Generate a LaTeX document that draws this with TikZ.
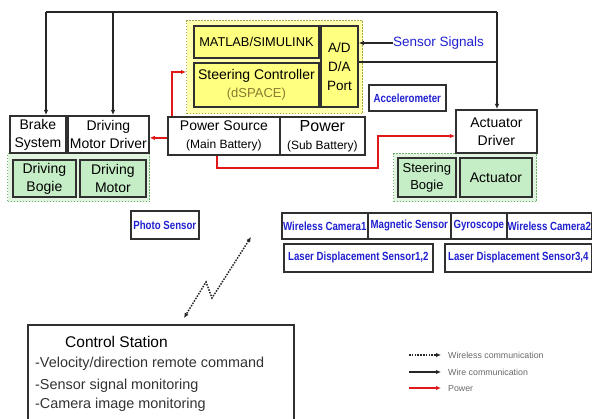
\documentclass[tikz,border=0pt]{standalone}
\usepackage{fontspec}
\setmainfont{Liberation Sans}
\newfontfamily\sensorfont[FakeStretch=0.82]{Liberation Sans Bold}
\usetikzlibrary{arrows.meta}
\definecolor{sigblue}{HTML}{2020D0}
\definecolor{ylight}{HTML}{FFFFAE}
\definecolor{ydark}{HTML}{FFFF80}
\definecolor{yborder}{HTML}{A8A848}
\definecolor{glight}{HTML}{E0F4E0}
\definecolor{gdark}{HTML}{C6EEC6}
\definecolor{gborder}{HTML}{70B070}
\definecolor{dspace}{HTML}{8C7A30}
\definecolor{pwrred}{HTML}{E01818}
\definecolor{leggray}{HTML}{6A6A6A}
\definecolor{bxline}{HTML}{303030}
\newcommand\myfs[1]{\fontsize{#1}{#1}\selectfont}
\begin{document}
\begin{tikzpicture}[x=1pt,y=-1pt,
  bx/.style={draw=bxline, line width=1.8pt, anchor=north west, inner sep=0pt, align=center, font=\fontsize{14}{18}\selectfont},
  ybx/.style={bx, fill=ydark},
  gbx/.style={bx, fill=gdark},
  sbx/.style={bx, line width=1.6pt, text=sigblue, font=\sensorfont\fontsize{11.8}{13}\selectfont},
  ycont/.style={draw=yborder, fill=ylight, line width=1.2pt, dash pattern=on 1.5pt off 1.5pt, anchor=north west, inner sep=0pt},
  gcont/.style={draw=gborder, fill=glight, line width=1.2pt, dash pattern=on 1.5pt off 1.5pt, anchor=north west, inner sep=0pt},
  tip/.style={-{Latex[length=5pt,width=4.5pt]}},
  wire/.style={draw=black!85, line width=1.8pt},
  pwr/.style={draw=pwrred, line width=1.8pt},
  wless/.style={draw=black!85, line width=1.5pt, dash pattern=on 1.5pt off 1.3pt},
  lgtxt/.style={anchor=west, text=leggray, inner sep=0pt, font=\fontsize{8.8}{10}\selectfont}
]
\clip (0,0) rectangle (592,419);
\fill[white] (0,0) rectangle (592,419);

% containers
\node[ycont, minimum width=176, minimum height=93] (ybox) at (186,20) {};
\node[gcont, minimum width=142, minimum height=48] (gbox1) at (7,153) {};
\node[gcont, minimum width=143, minimum height=48] (gbox2) at (393,153) {};

% yellow boxes
\node[ybx, minimum width=125, minimum height=32, font=\fontsize{12.8}{15}\selectfont] (matlab) at (193,25) {MATLAB/SIMULINK};
\node[ybx, minimum width=125, minimum height=44] (steer) at (193,62) {Steering Controller\\{\color{dspace}\myfs{13}(dSPACE)}};
\node[ybx, minimum width=37, minimum height=81, font=\fontsize{13.5}{19}\selectfont] (port) at (320,25) {A/D\\D/A\\Port};

% left boxes
\node[bx, minimum width=56, minimum height=37] (brake) at (9,115) {Brake\\System};
\node[bx, minimum width=81, minimum height=37] (dmd) at (67,115) {Driving\\Motor Driver};
\node[gbx, minimum width=63, minimum height=37] (dbogie) at (12,159) {Driving\\Bogie};
\node[gbx, minimum width=66, minimum height=37] (dmotor) at (79,159) {Driving\\Motor};

% power
\node[bx, minimum width=112, minimum height=38] (ps) at (167,116) {Power Source\\{\myfs{12}(Main Battery)}};
\node[bx, minimum width=85, minimum height=38] (pw) at (279,116) {{\myfs{16}Power}\\{\myfs{12}(Sub Battery)}};

% right boxes
\node[sbx, minimum width=77, minimum height=26] (accel) at (368,84) {Accelerometer};
\node[bx, minimum width=81, minimum height=43] (actdrv) at (455,109) {Actuator\\Driver};
\node[gbx, minimum width=58, minimum height=39, font=\fontsize{13}{17}\selectfont] (sbogie) at (397,157) {Steering\\Bogie};
\node[gbx, minimum width=72, minimum height=39] (actuator) at (459,157) {Actuator};

% sensors
\node[sbx, minimum width=68, minimum height=28] (photo) at (130,210) {Photo Sensor};
\node[sbx, minimum width=86, minimum height=26] (wc1) at (281,212) {Wireless Camera1};
\node[sbx, minimum width=83, minimum height=26] (mag) at (367,212) {Magnetic Sensor};
\node[sbx, minimum width=56, minimum height=26] (gyro) at (450,212) {Gyroscope};
\node[sbx, minimum width=85, minimum height=26] (wc2) at (506,212) {Wireless Camera2};
\node[sbx, minimum width=149, minimum height=28] (lds12) at (283,243) {Laser Displacement Sensor1,2};
\node[sbx, minimum width=147, minimum height=28] (lds34) at (444,243) {Laser Displacement Sensor3,4};

% sensor signals label
\node[anchor=west, inner sep=0pt, text=sigblue, font=\fontsize{13.5}{15}\selectfont] (sig) at (393,43) {Sensor Signals};

% control station
\node[bx, minimum width=266, minimum height=110] (cs) at (27,324) {};
\node[anchor=west, inner sep=0pt, font=\fontsize{15.5}{17}\selectfont] (cstitle) at (65,342) {Control Station};
\node[anchor=west, inner sep=0pt, text=black!80, font=\fontsize{14.4}{16}\selectfont] (cs1) at (35,364) {-Velocity/direction remote command};
\node[anchor=west, inner sep=0pt, text=black!80, font=\fontsize{14.4}{16}\selectfont] (cs2) at (35,386) {-Sensor signal monitoring};
\node[anchor=west, inner sep=0pt, text=black!80, font=\fontsize{14.4}{16}\selectfont] (cs3) at (35,405) {-Camera image monitoring};

% wire communication
\coordinate (tl) at (46,12);
\coordinate (tm) at (113,12);
\coordinate (tr) at (497,12);
\coordinate (pj) at (497,62);
\draw[wire] (tl) -- (tr);
\draw[wire, tip] (tl) -- (tl |- brake.north);
\draw[wire, tip] (tm) -- (tm |- dmd.north);
\draw[wire, tip] (tr) -- (tr |- actdrv.north);
\draw[wire] (port.east |- pj) -- (pj);
\draw[wire, tip] (sig.west) -- (port.east |- sig.west);

% power lines
\coordinate (r1) at (186,72);
\coordinate (r2) at (378,168);
\coordinate (r3) at (378,136);
\draw[pwr, tip] ([yshift=-2pt]ps.west) -- ([yshift=-2pt]ps.west -| dmd.east);
\draw[pwr, tip] ([xshift=5pt]ps.north west) |- (r1);
\draw[pwr, tip] ([xshift=50pt]ps.south west) |- (r2) -- (r3) -- (r3 -| actdrv.west);

% wireless link
\coordinate (w1) at (251,237);
\coordinate (w2) at (212,298);
\coordinate (w3) at (206,282);
\coordinate (w4) at (184,318);
\draw[wless, {Latex[length=5pt,width=4.5pt]}-{Latex[length=5pt,width=4.5pt]}] (w1) -- (w2) -- (w3) -- (w4);

% legend
\coordinate (l1a) at (409,355); \coordinate (l1b) at (441,355);
\coordinate (l2a) at (409,372); \coordinate (l2b) at (441,372);
\coordinate (l3a) at (409,388); \coordinate (l3b) at (441,388);
\draw[wless, tip] (l1a) -- (l1b);
\draw[wire, tip] (l2a) -- (l2b);
\draw[pwr, tip] (l3a) -- (l3b);
\node[lgtxt] (lg1) at (448,355) {Wireless communication};
\node[lgtxt] (lg2) at (448,372) {Wire communication};
\node[lgtxt] (lg3) at (448,389) {Power};
\end{tikzpicture}
\end{document}
